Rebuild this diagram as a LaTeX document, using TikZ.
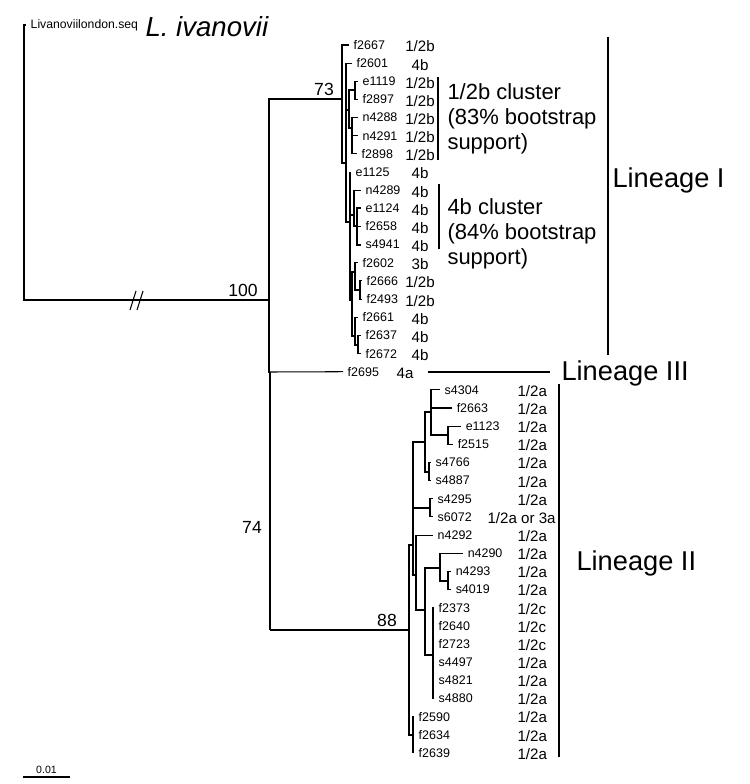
\documentclass[tikz,border=0pt]{standalone}
\usepackage{fontspec}
\setmainfont{Liberation Sans}

\tikzset{
    branch/.style={line width=0.6pt},
    fat/.style={line width=1.3pt},
    bar/.style={line width=0.8pt},
    leaf/.style={anchor=west, inner sep=2.4pt, font=\fontsize{7.1}{8}\selectfont},
    sero/.style={inner sep=0pt, font=\fontsize{8.6}{10}\selectfont},
    boot/.style={inner sep=0pt, font=\fontsize{10}{12}\selectfont},
    clust/.style={anchor=west, inner sep=0pt, align=left, font=\fontsize{12.5}{14.2}\selectfont},
    lineage/.style={anchor=west, inner sep=0pt, font=\fontsize{15.5}{18}\selectfont},
}

\begin{document}
\begin{tikzpicture}[x=0.02cm, y=-0.02cm, branch]

    \useasboundingbox (0,0) rectangle (750,784);

    \node[leaf, font=\fontsize{6.95}{8}\selectfont] (livan) at (26,25) {Livanoviilondon.seq};
    \node[anchor=west, inner sep=0pt, font=\fontsize{15.7}{18}\selectfont\itshape] (ivan) at (145,27) {L. ivanovii};

    \foreach \n/\x/\k in {f2667/349/0, f2601/352/1, e1119/358/2, f2897/358/3, n4288/358/4, n4291/358/5,
        f2898/357/6, e1125/351/7, n4289/361/8, e1124/361/9, f2658/361/10, s4941/361/11, f2602/358/12,
        f2666/362/13, f2493/362/14, f2661/358/15, f2637/361/16, f2672/361/17, f2695/343/18,
        s4304/440/19, f2663/452/20, e1123/461/21, f2515/453/22, s4766/431/23, s4887/431/24,
        s4295/433/25, s6072/433/26, n4292/433/27, n4290/463/28, n4293/451/29, s4019/451/30,
        f2373/434/31, f2640/434/32, f2723/434/33, s4497/434/34, s4821/434/35, s4880/434/36,
        f2590/414/37, f2634/414/38, f2639/414/39}
        \node[leaf] (\n) at (\x,{45+18.15*\k}) {\n};

    \foreach \k/\s in {0/{1/2b}, 1/4b, 2/{1/2b}, 3/{1/2b}, 4/{1/2b}, 5/{1/2b}, 6/{1/2b}, 7/4b, 8/4b,
        9/4b, 10/4b, 11/4b, 12/3b, 13/{1/2b}, 14/{1/2b}, 15/4b, 16/4b, 17/4b}
        \node[sero] (sero\k) at (420,{46.5+18.15*\k}) {\s};
    \node[sero] (sero18) at (405,{46.5+18.15*18}) {4a};
    \foreach \k/\s in {19/{1/2a}, 20/{1/2a}, 21/{1/2a}, 22/{1/2a}, 23/{1/2a}, 24/{1/2a}, 25/{1/2a},
        27/{1/2a}, 28/{1/2a}, 29/{1/2a}, 30/{1/2a}, 31/{1/2c}, 32/{1/2c}, 33/{1/2c}, 34/{1/2a},
        35/{1/2a}, 36/{1/2a}, 37/{1/2a}, 38/{1/2a}, 39/{1/2a}}
        \node[sero, anchor=west] (sero\k) at (517,{46+18.15*\k}) {\s};
    \node[sero, anchor=west] (sero26) at (487,{46+18.15*26}) {1/2a or 3a};

    \coordinate (root) at (24,300);
    \coordinate (n100) at (269,300);
    \coordinate (n73) at (342,99);
    \coordinate (nB) at (346,163);
    \coordinate (n12b) at (349,110);
    \coordinate (nE) at (355,90);
    \coordinate (nF) at (352,128);
    \coordinate (nD) at (350,222);
    \coordinate (n4b) at (354,215);
    \coordinate (nJ) at (357,226);
    \coordinate (nI) at (352,300);
    \coordinate (nK) at (355,272);
    \coordinate (nM) at (360,290);
    \coordinate (nL) at (355,336);
    \coordinate (nN) at (358,345);
    \coordinate (n74) at (270,372);
    \coordinate (n88) at (409,630);
    \coordinate (nW) at (413,545);
    \coordinate (nR) at (425,442);
    \coordinate (nP) at (431,412);
    \coordinate (nQ) at (448,435);
    \coordinate (nS) at (429,472);
    \coordinate (nU) at (430,508);
    \coordinate (nG) at (416,575);
    \coordinate (nY) at (425,610);
    \coordinate (nZ) at (440,568);
    \coordinate (nZZ) at (448,581);
    \coordinate (nAA) at (433,655);
    \coordinate (nX) at (413,735);

    \draw (livan.west) -| (root) -- (n100);
    \draw (n73) -| (n100) |- (n74);
    \draw (f2695.west) -- (n74);
    \draw[fat] (n74) -- (n74 |- n88);
    \draw (n74 |- n88) -- (n88);

    \draw (f2667.west) -| (n73) |- (nB);
    \draw (f2601.west) -| (nB) |- (nD);
    \draw (n12b) -- (nB |- n12b);
    \draw[fat] (nE) -| (n12b) |- (nF);
    \draw (e1119.west) -| (nE) |- (f2897.west);
    \draw (n4288.west) -| (nF) |- (f2898.west);
    \draw (n4291.west) -- (nF |- n4291.west);
    \draw (e1125.west) -| (nD) |- (nI);
    \draw (n4b) -- (nD |- n4b);
    \draw (n4289.west) -| (n4b) |- (nJ);
    \draw[fat] (e1124.west) -| (nJ) |- (s4941.west);
    \draw (f2658.west) -- (nJ |- f2658.west);
    \draw (nK) -| (nI) |- (nL);
    \draw (f2602.west) -| (nK) |- (nM);
    \draw (f2666.west) -| (nM) |- (f2493.west);
    \draw (f2661.west) -| (nL) |- (nN);
    \draw (f2637.west) -| (nN) |- (f2672.west);

    \draw (nW) -| (n88) |- (nX);
    \draw (nR) -| (nW) |- (nG);
    \draw (nU) -- (nW |- nU);
    \draw (nP) -| (nR) |- (nS);
    \draw (s4304.west) -| (nP) |- (nQ);
    \draw (f2663.west) -- (nP |- f2663.west);
    \draw (e1123.west) -| (nQ) |- (f2515.west);
    \draw (s4766.west) -| (nS) |- (s4887.west);
    \draw (s4295.west) -| (nU) |- (s6072.west);
    \draw (n4292.west) -| (nG) |- (nY);
    \draw (nZ) -| (nY) |- (nAA);
    \draw (n4290.west) -| (nZ) |- (nZZ);
    \draw (n4293.west) -| (nZZ) |- (s4019.west);
    \draw (f2373.west) -| (nAA) |- (s4880.west);
    \foreach \n in {f2640,f2723,s4497,s4821} \draw (\n.west) -- (nAA |- \n.west);
    \draw (f2590.west) -| (nX) |- (f2639.west);
    \draw (f2634.west) -- (nX |- f2634.west);

    \node[boot] (b100) at (243,290) {100};
    \node[boot] (b73) at (324,89) {73};
    \node[boot] (b74) at (252,527) {74};
    \node[boot] (b88) at (387,620) {88};

    \coordinate (brk) at (135,300);
    \draw ([shift={(-5,10)}]brk) -- ++(6,-19);
    \draw ([shift={(2,10)}]brk) -- ++(6,-19);

    \coordinate (br1a) at (438,77);
    \coordinate (br1b) at (438,160);
    \draw (br1a) -- (br1b);
    \node[clust] (cl1) at (447,119) {1/2b cluster\\(83\% bootstrap\\support)};
    \coordinate (br2a) at (439,184);
    \coordinate (br2b) at (439,249);
    \draw (br2a) -- (br2b);
    \node[clust] (cl2) at (447,234) {4b cluster\\(84\% bootstrap\\support)};

    \coordinate (l1a) at (608,37);
    \coordinate (l1b) at (608,355);
    \draw[bar] (l1a) -- (l1b);
    \node[lineage] (lin1) at (612,180) {Lineage I};
    \coordinate (l3a) at (428,372);
    \coordinate (l3b) at (550,372);
    \draw[bar] (l3a) -- (l3b);
    \node[lineage] (lin3) at (561,373) {Lineage III};
    \coordinate (l2a) at (559,384);
    \coordinate (l2b) at (559,757);
    \draw[bar] (l2a) -- (l2b);
    \node[lineage] (lin2) at (576,563) {Lineage II};

    \coordinate (sb1) at (23,777);
    \coordinate (sb2) at (70,777);
    \draw (sb1) -- node[above, inner sep=1.5pt, font=\fontsize{6}{7}\selectfont] (sbl) {0.01} (sb2);

\end{tikzpicture}
\end{document}
